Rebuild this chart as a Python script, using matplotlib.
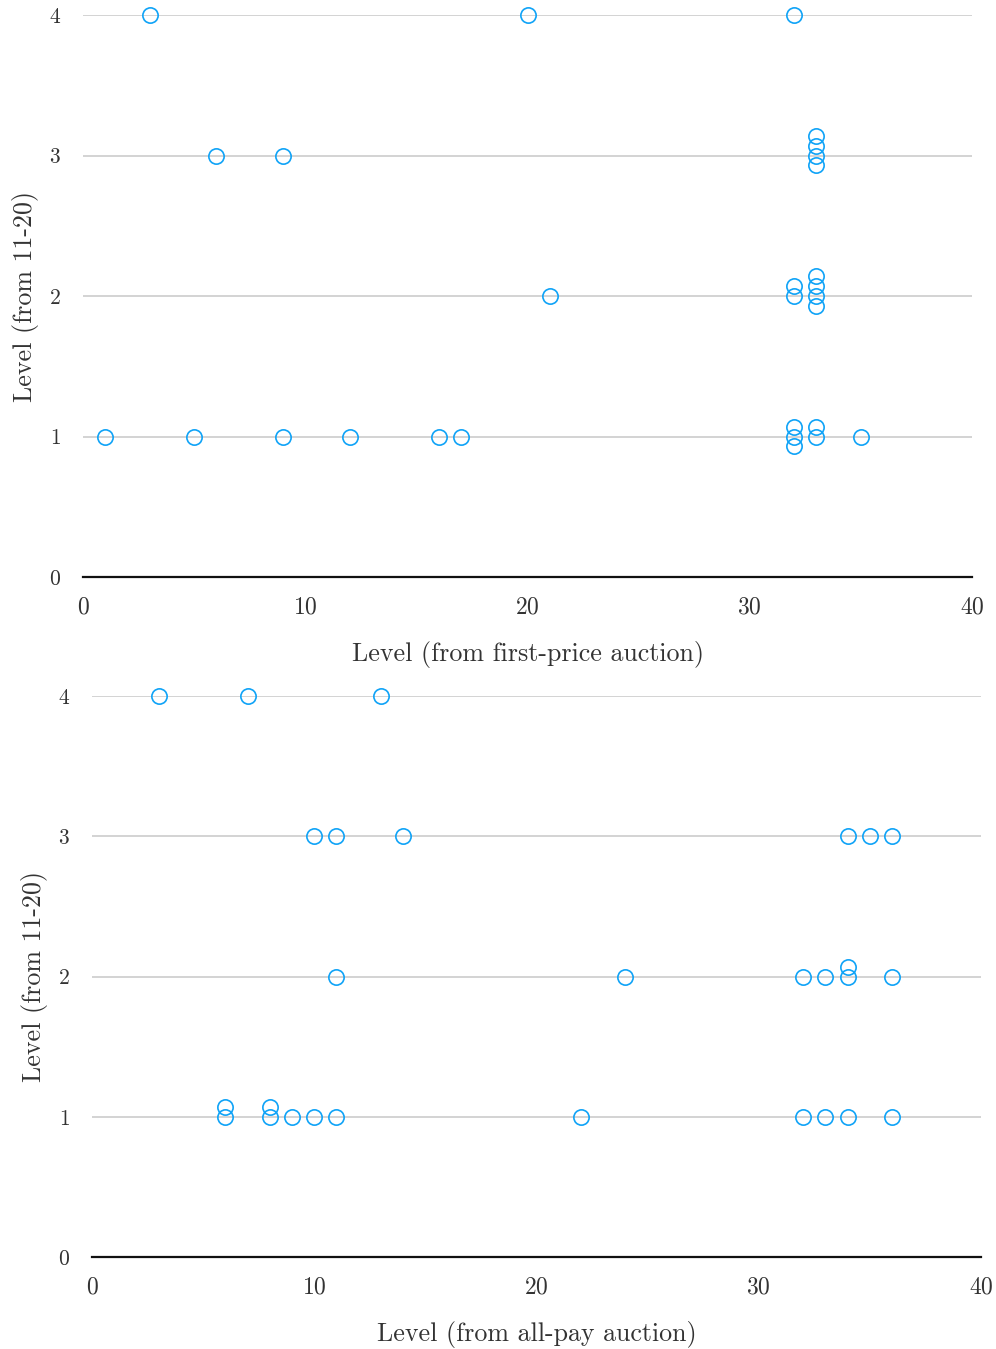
import matplotlib
matplotlib.use("Agg")
import matplotlib.pyplot as plt

plt.rcParams['font.family'] = ['cmr10', 'DejaVu Serif']
plt.rcParams['axes.formatter.use_mathtext'] = True

# Top panel: first-price auction
fp_x = [3, 20, 32,
        6, 9, 33, 33, 33, 33,
        21, 32, 32, 33, 33, 33, 33,
        1, 5, 9, 12, 16, 17, 32, 32, 32, 33, 33, 35]
fp_y = [4, 4, 4,
        3, 3, 3.14, 3.07, 3.0, 2.93,
        2, 2.07, 2.0, 2.14, 2.07, 2.0, 1.93,
        1, 1, 1, 1, 1, 1, 1.07, 1.0, 0.93, 1.07, 1.0, 1.0]

# Bottom panel: all-pay auction
ap_x = [3, 7, 13,
        10, 11, 14, 34, 35, 36,
        11, 24, 32, 33, 34, 34, 36,
        6, 6, 8, 8, 9, 10, 11, 22, 32, 33, 34, 36]
ap_y = [4, 4, 4,
        3, 3, 3, 3, 3, 3,
        2, 2, 2, 2, 2.07, 2, 2,
        1.07, 1, 1.07, 1, 1, 1, 1, 1, 1, 1, 1, 1]

x_ticks = [0, 10, 20, 30, 40]
y_ticks = [0, 1, 2, 3, 4]
y_label = "Level (from 11-20)"
x_labels = ["Level (from first-price auction)", "Level (from all-pay auction)"]

W, H = 996, 1349
fig = plt.figure(figsize=(W / 100, H / 100), dpi=100)

boxes = [(83, 972, 15, 577), (92, 981, 696, 1257)]
data = [(fp_x, fp_y), (ap_x, ap_y)]
col = '#0fa3f7'
txt = '#333333'

for (l, r, t, b), (xs, ys), xl in zip(boxes, data, x_labels):
    ax = fig.add_axes([l / W, 1 - b / H, (r - l) / W, (b - t) / H])
    ax.set_xlim(0, 40)
    ax.set_ylim(0, 4)
    for yv in y_ticks[1:]:
        ax.axhline(yv, color='#cccccc', lw=1.2, zorder=1)
    ax.plot(xs, ys, 'o', ms=11, mfc='none', mec=col, mew=1.2,
            clip_on=False, zorder=3)
    for s in ['top', 'right', 'left']:
        ax.spines[s].set_visible(False)
    ax.spines['bottom'].set_color('#111111')
    ax.spines['bottom'].set_linewidth(1.6)
    ax.set_xticks(x_ticks)
    ax.set_yticks(y_ticks)
    ax.tick_params(axis='both', length=0)
    ax.tick_params(axis='x', labelsize=17, pad=14, colors=txt)
    ax.tick_params(axis='y', labelsize=15.5, pad=16, colors=txt)
    ax.set_xlabel(xl, fontsize=18.7, color=txt, labelpad=16)
    ax.set_ylabel(y_label, fontsize=18.7, color=txt, labelpad=7)

fig.savefig('out.png', dpi=100)
